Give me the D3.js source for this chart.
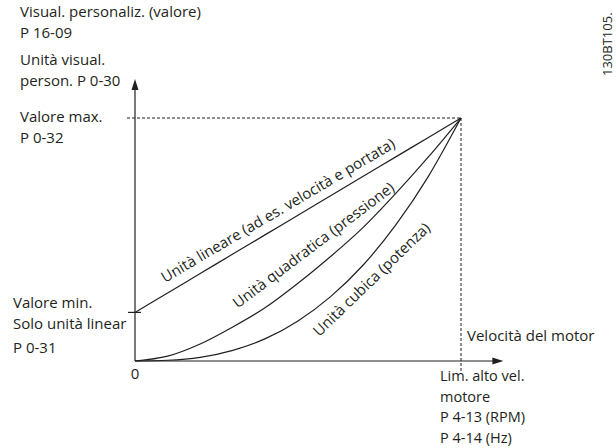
<!DOCTYPE html>
<html>
<head>
<meta charset="utf-8">
<script src="https://cdn.jsdelivr.net/npm/d3@7"></script>
<style>
  body { margin: 0; background: #fff; }
  svg { display: block; }
  text { font-family: "Open Sans", sans-serif; font-size: 15px; fill: #231f20; }
  text.small { font-size: 14.5px; }
</style>
</head>
<body>
<svg id="chart" width="616" height="448"></svg>
<script>
// Motor speed, % of the high speed limit
const speed = [0, 10, 20, 30, 40, 50, 60, 70, 80, 90, 100];
// Custom readout (% of the maximum value) for each kind of unit
const linearUnit    = [20, 28, 36, 44, 52, 60, 68, 76, 84, 92, 100];
const quadraticUnit = [0, 2, 7, 14, 22, 32, 43, 55, 69, 84, 100];
const cubicUnit     = [0, 0.3, 1.5, 4.4, 9.2, 16.5, 26.5, 39.5, 56, 76, 100];
const minValue = 20;
const maxValue = 100;

const seriesNames = [
  "Unità lineare (ad es. velocità e portata)",
  "Unità quadratica (pressione)",
  "Unità cubica (potenza)"
];
// where each curve name starts (speed, value) and its slant
const nameSpeed = [9.2, 31.5, 56.5];
const nameValue = [32.1, 21.5, 9.8];
const nameAngle = [-30.5, -37, -44];

const yTitle = ["Visual. personaliz. (valore)", "P 16-09", "Unità visual.", "person. P 0-30"];
const maxLabel = ["Valore max.", "P 0-32"];
const minLabel = ["Valore min.", "Solo unità linear", "P 0-31"];
const originLabel = "0";
const xTitle = "Velocità del motor";
const xLimitLabel = ["Lim. alto vel.", "motore", "P 4-13 (RPM)", "P 4-14 (Hz)"];
const docCode = "130BT105.";

const ink = "#231f20";
const svg = d3.select("#chart");

const x = d3.scaleLinear().domain([0, 100]).range([135, 461]);
const y = d3.scaleLinear().domain([0, 100]).range([361, 118]);

const xAxisEnd = x(113);
const yAxisEnd = y(116);

// axes with arrowheads
const axes = svg.append("g").attr("stroke", ink).attr("stroke-width", 1.2);
axes.append("line")
  .attr("x1", x(0)).attr("y1", y(0))
  .attr("x2", xAxisEnd - 6).attr("y2", y(0));
axes.append("line")
  .attr("x1", x(0)).attr("y1", y(0))
  .attr("x2", x(0)).attr("y2", yAxisEnd + 6);
svg.append("path")
  .attr("fill", ink)
  .attr("d", `M${xAxisEnd},${y(0)} L${xAxisEnd - 11},${y(0) - 3.5} L${xAxisEnd - 11},${y(0) + 3.5} Z`);
svg.append("path")
  .attr("fill", ink)
  .attr("d", `M${x(0)},${yAxisEnd} L${x(0) - 3.5},${yAxisEnd + 11} L${x(0) + 3.5},${yAxisEnd + 11} Z`);

// minimum value tick on the vertical axis
axes.append("line")
  .attr("x1", x(0) - 7).attr("y1", y(minValue))
  .attr("x2", x(0) + 6).attr("y2", y(minValue));

// dashed guides to the maximum point
const guides = svg.append("g")
  .attr("stroke", ink).attr("stroke-width", 1)
  .attr("stroke-dasharray", "3,2").attr("fill", "none");
guides.append("line")
  .attr("x1", x(0) - 8).attr("y1", y(maxValue))
  .attr("x2", x(100)).attr("y2", y(maxValue));
guides.append("line")
  .attr("x1", x(100)).attr("y1", y(maxValue))
  .attr("x2", x(100)).attr("y2", y(0) + 11);

// the three unit curves
const line = d3.line()
  .x((d, i) => x(speed[i]))
  .y(d => y(d))
  .curve(d3.curveMonotoneX);
svg.append("g")
  .attr("fill", "none").attr("stroke", ink).attr("stroke-width", 1.2)
  .selectAll("path")
  .data([linearUnit, quadraticUnit, cubicUnit])
  .join("path")
  .attr("d", line);

// curve names, slanted along each curve
svg.append("g")
  .selectAll("text")
  .data(seriesNames)
  .join("text")
  .attr("transform", (d, i) => `translate(${x(nameSpeed[i])},${y(nameValue[i])}) rotate(${nameAngle[i]})`)
  .text(d => d);

// text blocks
function block(lines, x0, ys, anchor, cls) {
  svg.append("g").selectAll("text")
    .data(lines)
    .join("text")
    .attr("class", cls || null)
    .attr("x", x0)
    .attr("y", (d, i) => ys[i])
    .attr("dy", "0.35em")
    .attr("text-anchor", anchor || "start")
    .text(d => d);
}

block(yTitle, 20, [yAxisEnd - 67.5, yAxisEnd - 46.5, yAxisEnd - 19.5, yAxisEnd + 1.5]);
block(maxLabel, 20, [y(maxValue) - 1, y(maxValue) + 20]);
block(minLabel, 13, [y(minValue) - 10, y(minValue) + 11, y(minValue) + 35]);
block([originLabel], x(0), [y(0) + 13], "middle");
block([xTitle], x(100) + 6, [y(0) - 25]);
block(xLimitLabel, x(100) - 21, [y(0) + 15, y(0) + 35.5, y(0) + 56, y(0) + 76.5], "start", "small");

// drawing code along the right edge
svg.append("text")
  .attr("transform", "translate(612,76) rotate(-90)")
  .style("font-size", "13px")
  .text(docCode);
</script>
</body>
</html>
